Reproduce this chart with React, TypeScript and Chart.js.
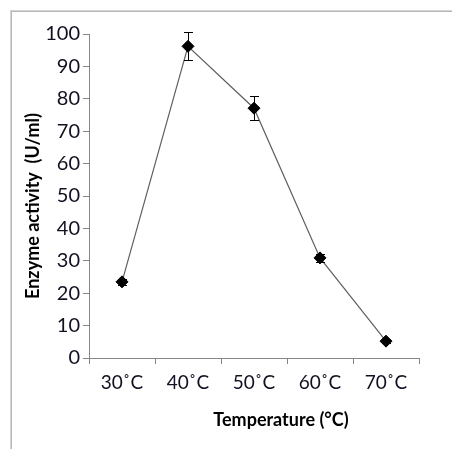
import React, { useEffect, useRef } from "react";
import { Chart, registerables } from "chart.js";

Chart.register(...registerables);

const categories = ["30˚C", "40˚C", "50˚C", "60˚C", "70˚C"];
const activity = [23.5, 96.2, 77.1, 30.9, 5.2];
const errors = [1.0, 4.3, 3.7, 1.3, 0.6];
const yTitle = "Enzyme activity  (U/ml)";
const xTitle = "Temperature (°C)";

const FONT = "Lato, 'Open Sans', sans-serif";

const decorPlugin = {
  id: "decor",
  beforeDraw(chart: any) {
    const ctx = chart.ctx;
    ctx.save();
    ctx.fillStyle = "#ffffff";
    ctx.fillRect(0, 0, chart.width, chart.height);
    ctx.fillStyle = "#d4d4d4";
    ctx.fillRect(10, 10, chart.width - 10, 1);
    ctx.fillRect(10, 10, 1, chart.height - 10);
    ctx.fillStyle = "#b8b8b8";
    ctx.fillRect(11, 11, chart.width - 11, 1);
    ctx.fillRect(11, 11, 1, chart.height - 11);
    ctx.restore();
  },
  afterDatasetsDraw(chart: any) {
    const ctx = chart.ctx;
    const xs = chart.scales.x;
    const ys = chart.scales.y;
    ctx.save();
    ctx.strokeStyle = "#000000";
    ctx.lineWidth = 1;
    activity.forEach((v, i) => {
      const x = Math.round(xs.getPixelForValue(i)) + 0.5;
      const yTop = ys.getPixelForValue(v + errors[i]);
      const yBot = ys.getPixelForValue(v - errors[i]);
      ctx.beginPath();
      ctx.moveTo(x, yTop);
      ctx.lineTo(x, yBot);
      ctx.moveTo(x - 4.5, Math.round(yTop) + 0.5);
      ctx.lineTo(x + 4.5, Math.round(yTop) + 0.5);
      ctx.moveTo(x - 4.5, Math.round(yBot) + 0.5);
      ctx.lineTo(x + 4.5, Math.round(yBot) + 0.5);
      ctx.stroke();
    });
    ctx.restore();
  },
  afterDraw(chart: any) {
    const ctx = chart.ctx;
    const area = chart.chartArea;
    ctx.save();
    ctx.fillStyle = "#000000";
    ctx.font = `bold 18px ${FONT}`;
    ctx.textAlign = "center";
    ctx.textBaseline = "middle";
    ctx.fillText(xTitle, (area.left + area.right) / 2 + 27, 420);
    ctx.translate(33, (area.top + area.bottom) / 2 + 10);
    ctx.rotate(-Math.PI / 2);
    ctx.fillText(yTitle, 0, 0);
    ctx.restore();
  },
};

export default function App() {
  const ref = useRef<HTMLCanvasElement | null>(null);
  useEffect(() => {
    if (!ref.current) return;
    const chart = new Chart(ref.current, {
      type: "line",
      data: {
        labels: categories,
        datasets: [
          {
            data: activity,
            borderColor: "#5f5f5f",
            borderWidth: 1.2,
            pointStyle: "rectRot",
            pointRadius: 6,
            pointBackgroundColor: "#000000",
            pointBorderColor: "#000000",
            pointBorderWidth: 1,
            tension: 0,
          },
        ],
      },
      options: {
        animation: false,
        responsive: true,
        maintainAspectRatio: false,
        layout: { padding: { left: 10, top: 34, right: 33, bottom: 0 } },
        plugins: {
          legend: { display: false },
          tooltip: { enabled: false },
        },
        scales: {
          x: {
            type: "category",
            offset: true,
            afterFit: (s: any) => {
              s.height = 91;
            },
            grid: {
              display: true,
              offset: true,
              drawOnChartArea: false,
              drawTicks: true,
              tickLength: 6,
              color: "#868686",
            },
            border: { display: true, color: "#868686", width: 1 },
            ticks: {
              color: "#111122",
              font: { family: FONT, size: 19 },
              padding: 7,
              maxRotation: 0,
            },
          },
          y: {
            min: 0,
            max: 100,
            afterFit: (s: any) => {
              s.width = 79;
            },
            grid: {
              display: true,
              drawOnChartArea: false,
              drawTicks: true,
              tickLength: 6,
              color: "#868686",
            },
            border: { display: true, color: "#868686", width: 1 },
            ticks: {
              stepSize: 10,
              color: "#111122",
              font: { family: FONT, size: 20 },
              padding: 3,
            },
          },
        },
      },
      plugins: [decorPlugin],
    });
    return () => chart.destroy();
  }, []);
  return (
    <div style={{ position: "fixed", left: 0, top: 0, width: 452, height: 449 }}>
      <canvas ref={ref} />
    </div>
  );
}
